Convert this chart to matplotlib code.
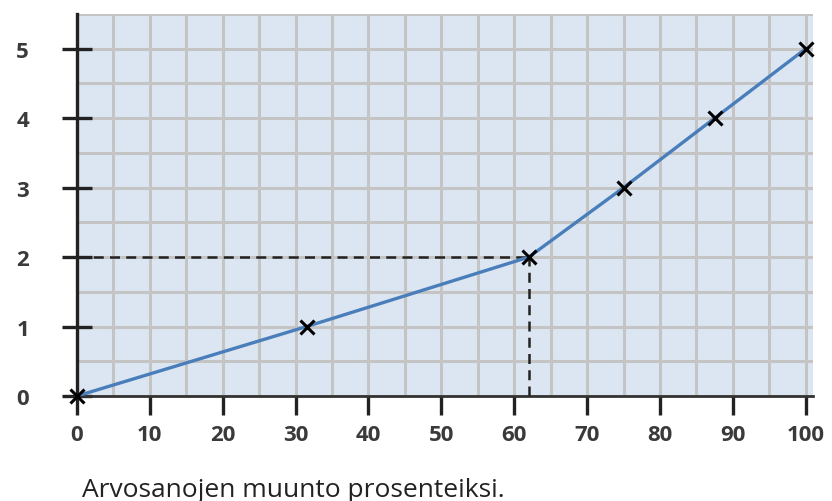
import matplotlib.pyplot as plt
import numpy as np

plt.rcParams['font.family'] = ['Open Sans', 'DejaVu Sans']

percent = [0, 31.5, 62, 75, 87.5, 100]
grade = [0, 1, 2, 3, 4, 5]
x_ticks = [0, 10, 20, 30, 40, 50, 60, 70, 80, 90, 100]
y_ticks = [0, 1, 2, 3, 4, 5]
guide_x = 62
guide_y = 2

fig = plt.figure(figsize=(8.32, 5.02), dpi=100)
ax = fig.add_axes([77 / 832, 105 / 502, 736 / 832, 382 / 502])
ax.set_facecolor('#dce6f2')

ax.set_xlim(0, 101)
ax.set_ylim(0, 5.5)

# grid every 5 % and every half grade
ax.set_xticks(np.arange(0, 101, 5), minor=True)
ax.set_yticks(np.arange(0, 5.6, 0.5), minor=True)
ax.grid(which='both', color='#c4c4c4', lw=2.2)
ax.set_axisbelow(True)

ax.plot([0, guide_x], [guide_y, guide_y], ls=(0, (4, 2.5)), color='#222222', lw=1.8, zorder=3)
ax.plot([guide_x, guide_x], [0, guide_y], ls=(0, (4, 2.5)), color='#222222', lw=1.8, zorder=3)

ax.plot(percent, grade, color='#4a7ebb', lw=2.4, zorder=4)
ax.plot(percent, grade, 'x', color='black', ms=10, mew=2.2, zorder=5, clip_on=False)

ax.set_xticks(x_ticks)
ax.set_yticks(y_ticks)
ax.tick_params(which='minor', length=0)
ax.tick_params(axis='x', which='major', direction='out', length=14, width=2.4,
               labelsize=16, pad=6, labelcolor='#3a3a3a', color='#222222')
ax.tick_params(axis='y', which='major', direction='inout', length=21, width=2.4,
               labelsize=16, pad=24, labelcolor='#3a3a3a', color='#222222')
for lab in ax.get_xticklabels() + ax.get_yticklabels():
    lab.set_fontweight('bold')

for s in ['top', 'right']:
    ax.spines[s].set_visible(False)
ax.spines['left'].set_linewidth(2.4)
ax.spines['left'].set_color('#222222')
ax.spines['bottom'].set_linewidth(2)
ax.spines['bottom'].set_color('#333333')

fig.text(82 / 832, 1 - 497 / 502, 'Arvosanojen muunto prosenteiksi.', fontsize=19,
         color='#222222', va='baseline', ha='left')

fig.savefig('out.png', dpi=100)
